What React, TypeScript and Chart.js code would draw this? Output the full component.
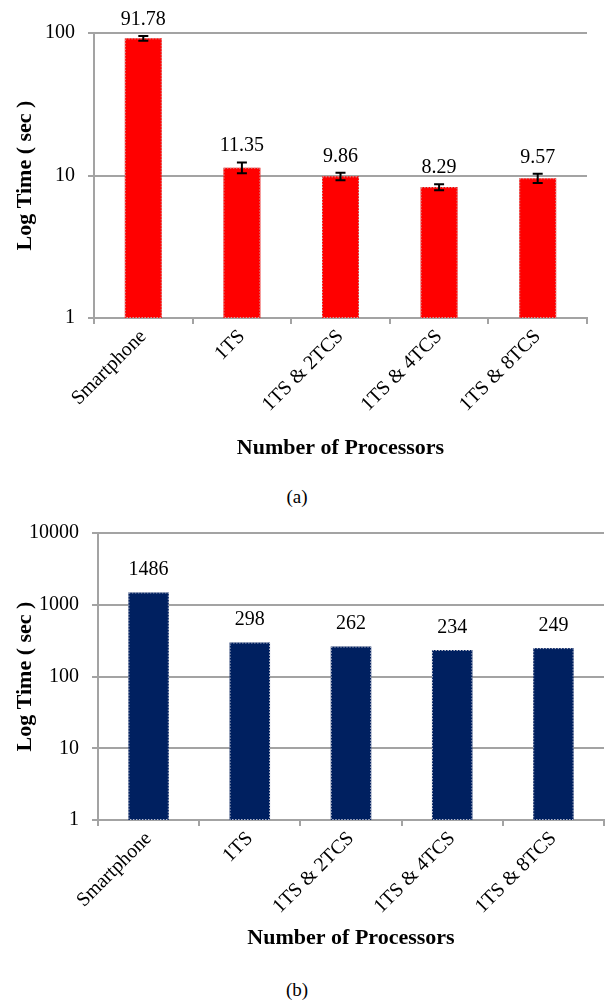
import React, { useEffect, useRef } from 'react';
import { Chart, registerables } from 'chart.js';

Chart.register(...registerables);

const categories = ['Smartphone', '1TS', '1TS & 2TCS', '1TS & 4TCS', '1TS & 8TCS'];
const timesA = [91.78, 11.35, 9.86, 8.29, 9.57];
const errorsA = [3.5, 1.0, 0.6, 0.4, 0.7];
const timesB = [1486, 298, 262, 234, 249];
const ticksA = [1, 10, 100];
const ticksB = [1, 10, 100, 1000, 10000];

const SERIF = '"Liberation Serif", "Times New Roman", serif';
const GRID = '#a3a3a3';

const barDecor = {
  id: 'barDecor',
  afterDatasetsDraw(chart: any, _args: any, opts: any) {
    const ctx = chart.ctx;
    const meta = chart.getDatasetMeta(0);
    const yScale = chart.scales.y;
    const data = chart.data.datasets[0].data as number[];
    const errs: number[] = opts.errors || [];
    ctx.save();
    meta.data.forEach((bar: any, i: number) => {
      const { x, y, base, width } = bar.getProps(['x', 'y', 'base', 'width'], true);
      const v = data[i];
      ctx.setLineDash([1.5, 1.5]);
      ctx.strokeStyle = opts.outline;
      ctx.lineWidth = 1;
      ctx.strokeRect(x - width / 2 + 0.5, y + 0.5, width - 1, base - y - 1);
      ctx.setLineDash([]);
      let top = y;
      const e = errs[i];
      if (e) {
        const yHi = yScale.getPixelForValue(v + e);
        const yLo = yScale.getPixelForValue(v - e);
        ctx.strokeStyle = '#000';
        ctx.lineWidth = 2;
        ctx.beginPath();
        ctx.moveTo(x, yHi);
        ctx.lineTo(x, yLo);
        ctx.moveTo(x - 5, yHi);
        ctx.lineTo(x + 5, yHi);
        ctx.moveTo(x - 5, yLo);
        ctx.lineTo(x + 5, yLo);
        ctx.stroke();
        top = yHi;
      }
      ctx.fillStyle = '#000';
      ctx.font = `20px ${SERIF}`;
      ctx.textAlign = 'center';
      ctx.textBaseline = 'alphabetic';
      ctx.fillText(String(v), x, top - opts.gap);
    });
    ctx.restore();
  },
};

function makeConfig(
  values: number[],
  color: string,
  ticks: number[],
  yWidth: number,
  xHeight: number,
  padRight: number,
  barPct: number,
  errors: number[],
  gap: number,
  outline: string
): any {
  return {
    type: 'bar',
    data: {
      labels: categories,
      datasets: [
        {
          data: values,
          backgroundColor: color,
          borderWidth: 0,
          barPercentage: barPct,
          categoryPercentage: 1,
        },
      ],
    },
    plugins: [barDecor],
    options: {
      responsive: false,
      animation: false,
      layout: { padding: { top: 33, right: padRight, left: 0, bottom: 0 } },
      plugins: {
        legend: { display: false },
        tooltip: { enabled: false },
        barDecor: { errors, gap, outline },
      },
      scales: {
        x: {
          type: 'category',
          grid: {
            display: true,
            drawOnChartArea: false,
            drawTicks: true,
            tickLength: 6,
            color: GRID,
            lineWidth: 2,
            offset: true,
          },
          border: { display: true, color: GRID, width: 2 },
          ticks: {
            font: { family: SERIF, size: 20 },
            color: '#000',
            maxRotation: 45,
            minRotation: 45,
            padding: 1,
            autoSkip: false,
          },
          title: {
            display: true,
            text: 'Number of Processors',
            font: { family: SERIF, size: 22, weight: 'bold' },
            color: '#000',
            padding: { top: 0, bottom: 8 },
          },
          afterFit: (s: any) => {
            s.height = xHeight;
          },
        },
        y: {
          type: 'logarithmic',
          min: ticks[0],
          max: ticks[ticks.length - 1],
          afterBuildTicks: (s: any) => {
            s.ticks = ticks.map((v) => ({ value: v }));
          },
          ticks: {
            font: { family: SERIF, size: 20 },
            color: '#000',
            padding: 13,
            callback: (v: any) => String(v),
          },
          grid: { color: GRID, lineWidth: 2, tickLength: 6 },
          border: { display: true, color: GRID, width: 2 },
          title: {
            display: true,
            text: 'Log Time ( sec )',
            font: { family: SERIF, size: 22, weight: 'bold' },
            color: '#000',
            padding: { top: 12, bottom: 0 },
          },
          afterFit: (s: any) => {
            s.width = yWidth;
          },
        },
      },
    },
  };
}

export default function App() {
  const refA = useRef<HTMLCanvasElement>(null);
  const refB = useRef<HTMLCanvasElement>(null);

  useEffect(() => {
    const a = new Chart(
      refA.current!,
      makeConfig(timesA, '#ff0000', ticksA, 94, 152, 19, 0.375, errorsA, 11, '#c9a3a3')
    );
    const b = new Chart(
      refB.current!,
      makeConfig(timesB, '#002060', ticksB, 98, 140, 2, 0.4, [], 17, '#b8bccc')
    );
    return () => {
      a.destroy();
      b.destroy();
    };
  }, []);

  const caption: React.CSSProperties = {
    position: 'absolute',
    left: 247,
    width: 100,
    textAlign: 'center',
    fontFamily: SERIF,
    fontSize: 19,
    lineHeight: '22px',
    color: '#000',
  };

  return (
    <div style={{ position: 'absolute', top: 0, left: 0, width: 606, height: 1005, background: '#fff' }}>
      <canvas ref={refA} width={606} height={470} style={{ position: 'absolute', top: 0, left: 0 }} />
      <div style={{ ...caption, top: 486 }}>(a)</div>
      <canvas ref={refB} width={606} height={460} style={{ position: 'absolute', top: 500, left: 0 }} />
      <div style={{ ...caption, top: 979 }}>(b)</div>
    </div>
  );
}
